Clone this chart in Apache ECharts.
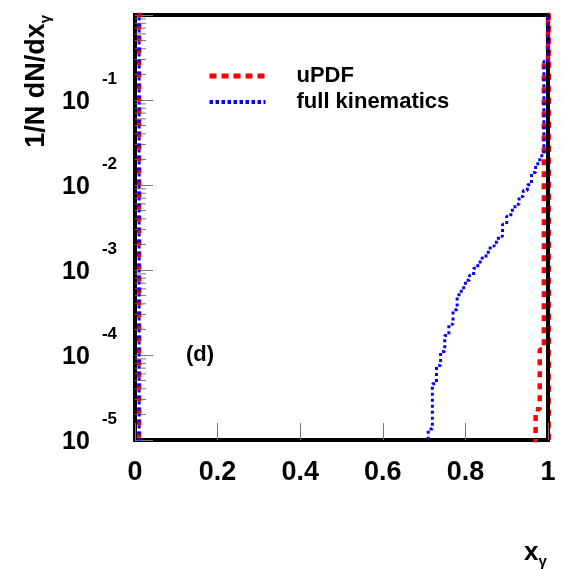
<!DOCTYPE html>
<html><head><meta charset="utf-8">
<script src="https://cdn.jsdelivr.net/npm/echarts@6/dist/echarts.min.js"></script>
<style>html,body{margin:0;padding:0;background:#fff}#c{width:563px;height:569px}</style>
</head><body><div id="c"></div>
<script>
// ---- data ----
const seriesNames = ['uPDF', 'full kinematics'];
const binWidth = 0.01;
// lower edges of non-empty bins; values of 1/N dN/dx (values >1 are off-scale)
const updfBinLow = [0.00, 0.97, 0.98, 0.99, 1.00];
const updfValues = [5, 2.3e-5, 1.16e-4, 0.286, 5];
const fullBinLow = [0.00,
  0.71, 0.72, 0.73, 0.74, 0.75, 0.76, 0.77, 0.78, 0.79, 0.80,
  0.81, 0.82, 0.83, 0.84, 0.85, 0.86, 0.87, 0.88, 0.89, 0.90,
  0.91, 0.92, 0.93, 0.94, 0.95, 0.96, 0.97, 0.98, 0.99, 1.00];
const fullValues = [5,
  1.35e-5, 4.6e-5, 7.5e-5, 1.1e-4, 1.7e-4, 2.3e-4, 3.4e-4, 5.1e-4, 6.2e-4, 7.6e-4,
  8.7e-4, 1.05e-3, 1.24e-3, 1.38e-3, 1.62e-3, 1.91e-3, 2.12e-3, 2.5e-3, 3.45e-3, 4.28e-3,
  5.04e-3, 5.92e-3, 7.33e-3, 8.63e-3, 1.01e-2, 1.4e-2, 1.78e-2, 2.21e-2, 0.286, 5];
const xTickValues = [0, 0.2, 0.4, 0.6, 0.8, 1];
const yDecades = [1e-5, 1e-4, 1e-3, 1e-2, 1e-1];
const yMinorMultipliers = [2, 3, 4, 5, 6, 7, 8, 9];
const panelLabel = '(d)';

// ---- build histogram outlines (outline starts at the top of the first bin) ----
const FLOOR = 1e-9; // empty bins: below the visible range
function stepPoints(lows, vals) {
  const pts = [];
  let prevHigh = null;
  for (let i = 0; i < lows.length; i++) {
    const lo = lows[i], hi = +(lo + binWidth).toFixed(4), v = vals[i];
    if (prevHigh !== null && Math.abs(prevHigh - lo) > 1e-9) {
      pts.push([prevHigh, FLOOR]);
      pts.push([lo, FLOOR]);
    }
    pts.push([lo, v]);
    pts.push([hi, v]);
    prevHigh = hi;
  }
  pts.push([prevHigh, FLOOR]);
  return pts;
}
const minorTickValues = [];
yDecades.forEach(d => yMinorMultipliers.forEach(m => minorTickValues.push([0, m * d])));

const FONT = '"Liberation Sans", Arial, Helvetica, sans-serif';
const chart = echarts.init(document.getElementById('c'), null, {renderer: 'canvas'});
chart.setOption({
  animation: false,
  backgroundColor: '#fff',
  title: {
    text: panelLabel, left: 186, top: 344, padding: 0,
    textStyle: {fontFamily: FONT, fontWeight: 'bold', fontSize: 22, color: '#000'}
  },
  legend: {
    orient: 'vertical', left: 202, top: 60,
    itemWidth: 56, itemHeight: 14, itemGap: 4,
    selectedMode: false,
    itemStyle: {color: 'rgba(0,0,0,0)', borderWidth: 0, opacity: 0},
    data: [
      {name: seriesNames[0], lineStyle: {width: 5, type: [7, 5]}},
      {name: seriesNames[1], lineStyle: {width: 4, type: [3.5, 2.5]}}
    ],
    textStyle: {fontFamily: FONT, fontWeight: 'bold', fontSize: 22, lineHeight: 22, color: '#000', padding: [0, 0, 0, 26]}
  },
  grid: {
    left: 135, right: 15, top: 15, bottom: 129,
    show: true, borderColor: '#000', borderWidth: 4, backgroundColor: 'transparent'
  },
  xAxis: {
    type: 'value', min: 0, max: 1, interval: 0.2,
    axisLine: {show: false},
    axisTick: {show: true, inside: true, length: 17, lineStyle: {color: '#777', width: 1}},
    splitLine: {show: false},
    axisLabel: {
      margin: 19, color: '#000', fontFamily: FONT, fontWeight: 'bold', fontSize: 27,
      formatter: v => (xTickValues.indexOf(+v.toFixed(2)) >= 0 ? String(+v.toFixed(2)) : '')
    }
  },
  yAxis: {
    type: 'log', logBase: 10, min: 1e-5, max: 1, splitNumber: 5,
    axisLine: {show: false},
    axisTick: {show: true, inside: true, length: 18, lineStyle: {color: '#777', width: 1}},
    splitLine: {show: false},
    axisLabel: {
      interval: 0, margin: 18, color: '#000',
      formatter: function (v) {
        const e = Math.round(Math.log10(v));
        if (e === 0) return '';
        return '{b|10}{e|' + e + '}';
      },
      rich: {
        b: {fontFamily: FONT, fontWeight: 'bold', fontSize: 25, color: '#000', padding: [4, 0, 0, 0]},
        e: {fontFamily: FONT, fontWeight: 'bold', fontSize: 17, color: '#000', padding: [0, 0, 42, 12]}
      }
    }
  },
  graphic: [
    {
      type: 'text', x: 37, y: 15, rotation: Math.PI / 2,
      style: {
        text: '{m|1/N dN/dx}{s|γ}', align: 'right', verticalAlign: 'middle',
        rich: {
          m: {fontFamily: FONT, fontWeight: 'bold', fontSize: 27, fill: '#000'},
          s: {fontFamily: FONT, fontWeight: 'bold', fontSize: 15, fill: '#000', padding: [18, 0, 0, 0]}
        }
      }
    },
    {
      type: 'text', x: 524, y: 553,
      style: {
        text: '{m|x}{s|γ}', align: 'left', verticalAlign: 'middle',
        rich: {
          m: {fontFamily: FONT, fontWeight: 'bold', fontSize: 26, fill: '#000'},
          s: {fontFamily: FONT, fontWeight: 'bold', fontSize: 15, fill: '#000', padding: [18, 0, 0, 0]}
        }
      }
    }
  ],
  series: [
    {
      type: 'custom', name: 'minorTicks', silent: true, z: 1,
      data: minorTickValues,
      renderItem: function (params, api) {
        const p = api.coord([api.value(0), api.value(1)]);
        return {type: 'line', shape: {x1: p[0], y1: p[1], x2: p[0] + 11, y2: p[1]},
                style: {stroke: '#777', lineWidth: 1}};
      }
    },
    {
      name: seriesNames[0], type: 'line', data: stepPoints(updfBinLow, updfValues),
      symbol: 'none', showSymbol: false, clip: true, z: 3,
      lineStyle: {color: '#ff0000', width: 4.5, type: [6, 6]},
      itemStyle: {color: '#ff0000'}
    },
    {
      name: seriesNames[1], type: 'line', data: stepPoints(fullBinLow, fullValues),
      symbol: 'none', showSymbol: false, clip: true, z: 4,
      lineStyle: {color: '#0000ff', width: 3, type: [3, 3]},
      itemStyle: {color: '#0000ff'}
    }
  ]
});
</script>
</body></html>
